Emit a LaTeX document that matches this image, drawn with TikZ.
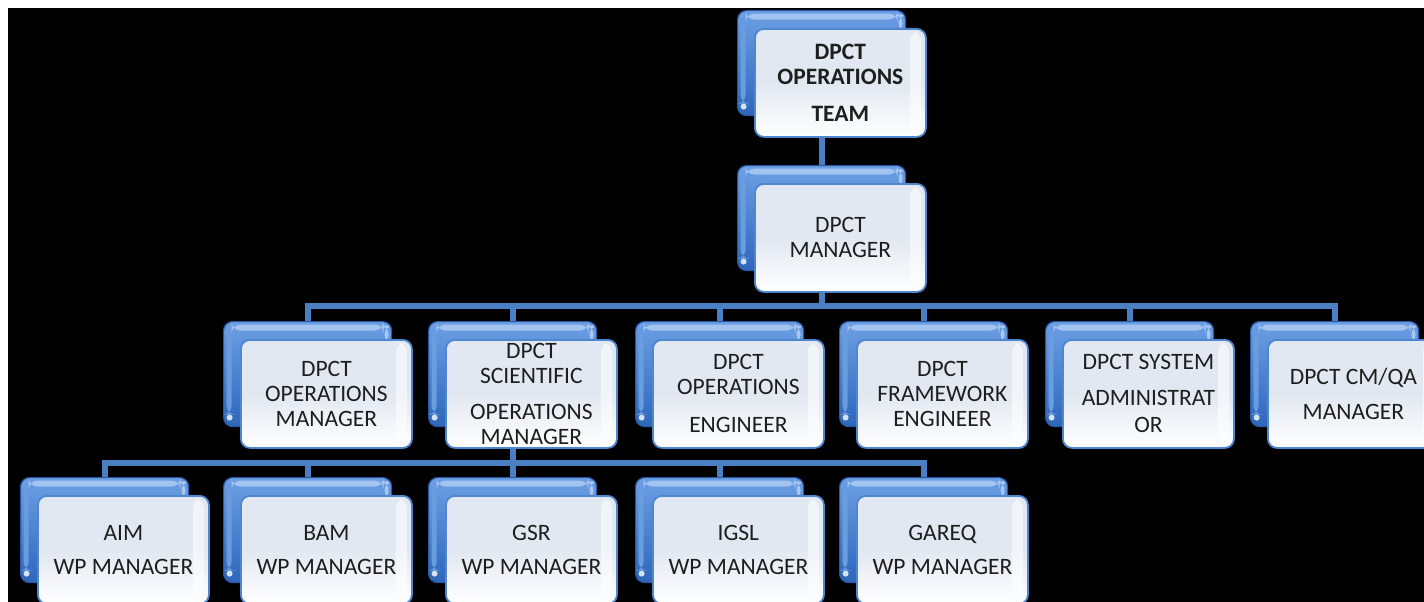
\documentclass[tikz,border=0pt]{standalone}
\usepackage{fontspec}
\setmainfont{Carlito}
\pgfdeclarelayer{backdrop}
\pgfdeclarelayer{links}
\pgfsetlayers{backdrop,links,main}

\definecolor{linkblue}{HTML}{4A7FC4}
\definecolor{tileedge}{HTML}{2858A4}
\definecolor{tiletop}{HTML}{6C9FE4}
\definecolor{tilebot}{HTML}{2E66BA}
\definecolor{tileband}{HTML}{A3C4F0}
\definecolor{tileside}{HTML}{6A9DE0}
\definecolor{cardedge}{HTML}{4F86D0}
\definecolor{cardfill}{HTML}{E2E8F1}
\definecolor{inktext}{HTML}{1E1E1E}

\tikzset{
  backtile/.style={anchor=north west, minimum width=168pt, minimum height=105pt,
    inner sep=0pt, rounded corners=9pt, draw=tileedge, line width=1.2pt,
    top color=tiletop, bottom color=tilebot,
    path picture={
      \fill[tileband] ([xshift=8pt,yshift=-3pt]path picture bounding box.north west)
        rectangle ([xshift=-8pt,yshift=-9pt]path picture bounding box.north east);
      \fill[tileside] ([xshift=3pt,yshift=-10pt]path picture bounding box.north west)
        rectangle ([xshift=8pt,yshift=12pt]path picture bounding box.south west);
      \fill[white,opacity=.8] ([xshift=6pt,yshift=9pt]path picture bounding box.south west) circle (3pt);
      \fill[white,opacity=.45] ([xshift=-7pt,yshift=-4pt]path picture bounding box.north east)
        rectangle ([xshift=-3pt,yshift=-22pt]path picture bounding box.north east);
    }},
  card/.style={anchor=north west, minimum width=171pt, minimum height=108pt,
    inner sep=0pt, rounded corners=9pt, draw=cardedge, line width=1.8pt,
    top color=cardfill, bottom color=white, middle color=cardfill,
    align=center, text=inktext, font=\fontsize{23.5}{25}\selectfont,
    path picture={
      \fill[white,opacity=.55] ([xshift=-16pt,yshift=-3pt]path picture bounding box.north east)
        rectangle ([xshift=-5pt,yshift=3pt]path picture bounding box.south east);
    }},
  link/.style={draw=linkblue, line width=6pt},
  bus/.style={link, line cap=rect}
}

% #1 name, #2/#3 top-left corner of the rear tile, #4 label
\newcommand\orgunit[4]{%
  \node[backtile] (#1-b) at (#2,#3) {};
  \node[card] (#1) at ({#2+17},{#3+18}) {#4};
}

\begin{document}
\begin{tikzpicture}[x=1pt,y=-1pt]
\useasboundingbox (0,0) rectangle (1424,602);
\begin{pgfonlayer}{backdrop}
  \fill[white] (0,0) rectangle (1424,602);
  \fill[black] (8,8) rectangle (1424,602);
\end{pgfonlayer}

% top of the tree
\orgunit{team}{737}{10}{\bfseries DPCT\\\bfseries OPERATIONS\\[12pt]\bfseries TEAM}
\orgunit{mgr}{737}{165}{DPCT\\MANAGER}

% second level
\orgunit{opsm}{223}{321}{DPCT\\OPERATIONS\\MANAGER}
\orgunit{sci}{428}{321}{DPCT\\SCIENTIFIC\\[11pt]OPERATIONS\\MANAGER}
\orgunit{opse}{635}{321}{DPCT\\OPERATIONS\\[13pt]ENGINEER}
\orgunit{fwe}{839}{321}{DPCT\\FRAMEWORK\\ENGINEER}
\orgunit{sysa}{1045}{321}{DPCT SYSTEM\\[11pt]ADMINISTRAT\\[2pt]OR}
\orgunit{cmqa}{1250}{321}{DPCT CM/QA\\[10pt]MANAGER}

% work package managers
\orgunit{aim}{20}{477}{AIM\\[9pt]WP MANAGER}
\orgunit{bam}{223}{477}{BAM\\[9pt]WP MANAGER}
\orgunit{gsr}{428}{477}{GSR\\[9pt]WP MANAGER}
\orgunit{igsl}{635}{477}{IGSL\\[9pt]WP MANAGER}
\orgunit{gareq}{839}{477}{GAREQ\\[9pt]WP MANAGER}

\coordinate (busA) at (0,306);
\coordinate (busB) at (0,463);

\begin{pgfonlayer}{links}
  \draw[link] (team-b.south) -- (mgr-b.north);
  \draw[link] (mgr-b.south) -- (mgr-b.south |- busA);
  \draw[bus] (opsm-b.north |- busA) -- (cmqa-b.north |- busA);
  \foreach \u in {opsm,sci,opse,fwe,sysa,cmqa}
    \draw[link] (\u-b.north |- busA) -- (\u-b.north);
  \draw[link] (sci-b.south) -- (sci-b.south |- busB);
  \draw[bus] (aim-b.north |- busB) -- (gareq-b.north |- busB);
  \foreach \u in {aim,bam,gsr,igsl,gareq}
    \draw[link] (\u-b.north |- busB) -- (\u-b.north);
\end{pgfonlayer}
\end{tikzpicture}
\end{document}
